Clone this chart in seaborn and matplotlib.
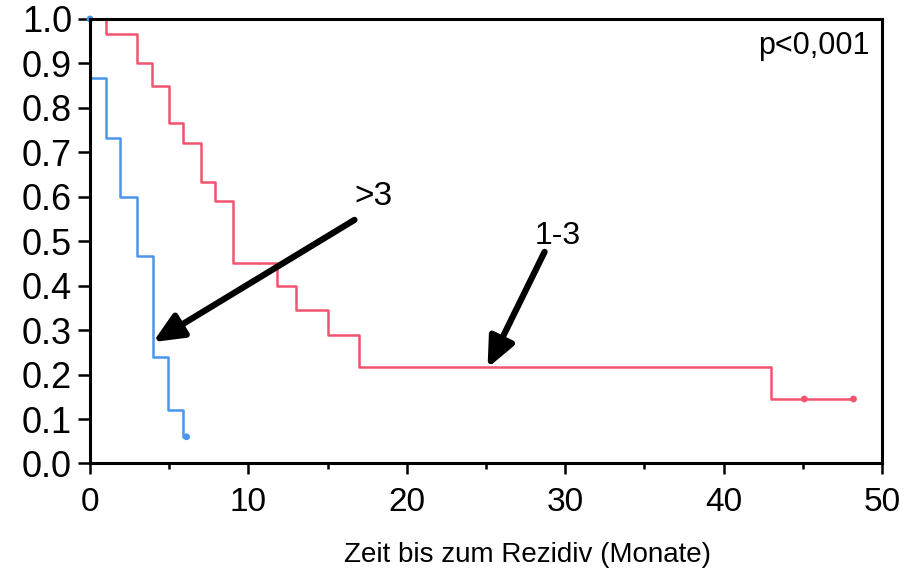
import matplotlib
matplotlib.use("Agg")
import matplotlib.pyplot as plt
from matplotlib.ticker import MultipleLocator
import numpy as np
import pandas as pd
import seaborn as sns

# Kaplan-Meier estimates: time to recurrence (months) and recurrence-free proportion
group_labels = ["1-3", ">3"]
time_13 = [0, 1, 3, 3.9, 5, 5.9, 7, 7.9, 9, 11.8, 13, 15, 17, 43, 48.2]
surv_13 = [1.0, 0.967, 0.9, 0.85, 0.767, 0.72, 0.633, 0.59, 0.45, 0.40, 0.345, 0.29, 0.217, 0.145, 0.145]
censor_time_13 = [45.1, 48.2]
censor_surv_13 = [0.145, 0.145]

time_gt3 = [0, 0, 1, 1.9, 3, 4, 4.95, 5.9, 6.1]
surv_gt3 = [1.0, 0.867, 0.733, 0.6, 0.467, 0.24, 0.12, 0.06, 0.06]
censor_time_gt3 = [0, 6.1]
censor_surv_gt3 = [1.0, 0.06]

x_ticks = [0, 10, 20, 30, 40, 50]
y_ticks = [0.0, 0.1, 0.2, 0.3, 0.4, 0.5, 0.6, 0.7, 0.8, 0.9, 1.0]

colors = {"1-3": "#F2536E", ">3": "#4A96EE"}

curves = pd.concat([
    pd.DataFrame({"Monate": time_13, "Anteil": surv_13, "Gruppe": "1-3"}),
    pd.DataFrame({"Monate": time_gt3, "Anteil": surv_gt3, "Gruppe": ">3"}),
], ignore_index=True)
censored = pd.concat([
    pd.DataFrame({"Monate": censor_time_13, "Anteil": censor_surv_13, "Gruppe": "1-3"}),
    pd.DataFrame({"Monate": censor_time_gt3, "Anteil": censor_surv_gt3, "Gruppe": ">3"}),
], ignore_index=True)

sns.set_theme(style="ticks")
plt.rcParams["font.family"] = ["Liberation Sans", "DejaVu Sans"]
plt.rcParams["text.color"] = "black"

fig = plt.figure(figsize=(9.07, 5.75), dpi=100)
ax = fig.add_axes([0.0992, 0.194, 0.8732, 0.773])

sns.lineplot(data=curves, x="Monate", y="Anteil", hue="Gruppe", palette=colors,
             estimator=None, sort=False, drawstyle="steps-post", linewidth=1.8,
             legend=False, ax=ax)
for line in ax.lines:
    line.set_clip_on(False)
sns.scatterplot(data=censored, x="Monate", y="Anteil", hue="Gruppe", palette=colors,
                s=24, linewidth=0, legend=False, ax=ax, clip_on=False, zorder=3)

ax.set_xlim(0, 50)
ax.set_ylim(0, 1.0)
ax.set_xticks(x_ticks)
ax.set_yticks(y_ticks)
ax.set_yticklabels([f"{v:.1f}" for v in y_ticks])
ax.xaxis.set_minor_locator(MultipleLocator(5))
ax.tick_params(axis="y", which="major", direction="out", length=9, width=1.8,
               color="black", labelsize=26, labelcolor="black", pad=4)
ax.tick_params(axis="x", which="major", direction="out", length=8, width=1.8,
               color="black", labelsize=24, labelcolor="black", pad=9)
ax.tick_params(axis="x", which="minor", direction="out", length=4, width=1.8, color="black")
for side in ["left", "right", "top", "bottom"]:
    ax.spines[side].set_visible(True)
    ax.spines[side].set_color("black")
    ax.spines[side].set_linewidth(2.2)
    ax.spines[side].set_zorder(5)
ax.set_xlabel("")
ax.set_ylabel("")

# group annotations with arrows
arrow_style = dict(arrowstyle="-|>,head_length=0.9,head_width=0.4", mutation_scale=20,
                   color="black", lw=4.5, shrinkA=0, shrinkB=0)
ax.annotate("", xy=(3.98, 0.273), xytext=(16.7, 0.548), arrowprops=arrow_style)
ax.text(16.7, 0.60, ">3", fontsize=24, ha="left", va="center")
ax.annotate("", xy=(25.1, 0.215), xytext=(28.7, 0.476), arrowprops=arrow_style)
ax.text(28.1, 0.512, "1-3", fontsize=23, ha="left", va="center")

ax.text(0.985, 0.94, "p<0,001", transform=ax.transAxes, fontsize=22,
        ha="right", va="center")

fig.text(527 / 907, 1 - 555 / 575, "Zeit bis zum Rezidiv (Monate)",
         fontsize=20, ha="center", va="center")

fig.savefig("out.png", dpi=100)
